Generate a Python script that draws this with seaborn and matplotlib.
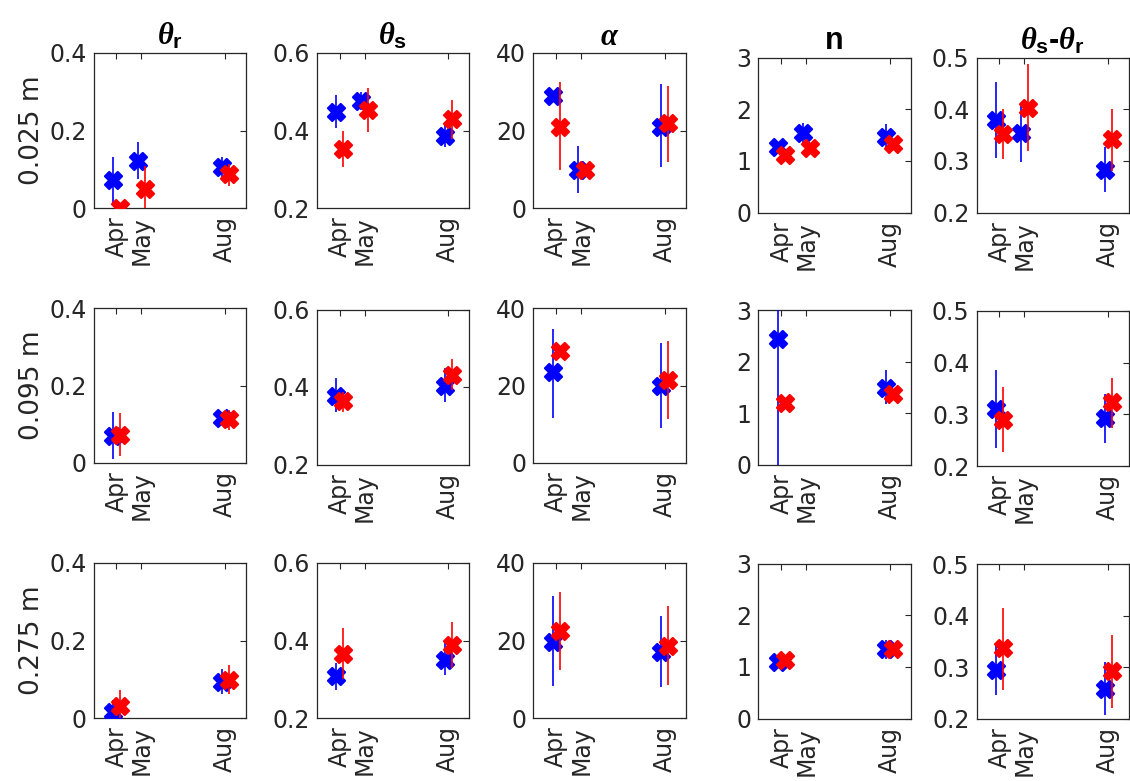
import numpy as np
import pandas as pd
import matplotlib
matplotlib.use("Agg")
import matplotlib.pyplot as plt
import seaborn as sns

# ---------------- data ----------------
months = ["Apr", "May", "Aug"]
month_day = [23, 48, 132]          # sampling day, counted from 1 April
depths = ["0.025 m", "0.095 m", "0.275 m"]
param_titles = [r"$\theta_\mathbf{r}$", r"$\theta_\mathbf{s}$", r"$\alpha$", "n",
                r"$\theta_\mathbf{s}$-$\theta_\mathbf{r}$"]
ylims = [(0, 0.4), (0.2, 0.6), (0, 40), (0, 3), (0.2, 0.5)]
yticks = [[0, 0.2, 0.4], [0.2, 0.4, 0.6], [0, 20, 40], [0, 1, 2, 3], [0.2, 0.3, 0.4, 0.5]]

NA = [np.nan, np.nan, np.nan]
# each entry: [mean, lower, upper] for Apr, May, Aug; rows = depths
theta_r_blue = [[[0.071, 0.010, 0.131], [0.122, 0.075, 0.170], [0.105, 0.079, 0.131]],
                [[0.069, 0.011, 0.132], NA, [0.115, 0.097, 0.132]],
                [[0.016, 0.000, 0.046], NA, [0.093, 0.063, 0.126]]]
theta_r_red = [[[0.001, 0.000, 0.004], [0.049, 0.000, 0.109], [0.088, 0.058, 0.114]],
               [[0.073, 0.017, 0.128], NA, [0.113, 0.084, 0.136]],
               [[0.031, 0.000, 0.073], NA, [0.097, 0.061, 0.136]]]
theta_s_blue = [[[0.449, 0.406, 0.492], [0.476, 0.452, 0.499], [0.387, 0.357, 0.417]],
                [[0.378, 0.336, 0.424], NA, [0.403, 0.362, 0.448]],
                [[0.308, 0.272, 0.341], NA, [0.350, 0.311, 0.393]]]
theta_s_red = [[[0.351, 0.305, 0.400], [0.452, 0.396, 0.509], [0.430, 0.378, 0.479]],
               [[0.364, 0.336, 0.388], NA, [0.431, 0.392, 0.472]],
               [[0.365, 0.300, 0.431], NA, [0.389, 0.328, 0.447]]]
alpha_blue = [[[28.8, 28.2, 29.4], [9.8, 4.0, 16.1], [21.0, 10.5, 31.9]],
              [[23.5, 11.7, 34.7], NA, [19.8, 9.1, 31.0]],
              [[19.6, 8.3, 31.4], NA, [17.0, 8.0, 26.2]]]
alpha_red = [[[21.0, 9.8, 32.5], [9.8, 9.2, 10.4], [21.9, 11.9, 31.6]],
             [[29.0, 28.4, 29.6], NA, [21.4, 11.4, 31.4]],
             [[22.4, 12.4, 32.5], NA, [18.7, 8.4, 28.8]]]
n_blue = [[[1.27, 1.20, 1.35], [1.53, 1.35, 1.74], [1.47, 1.22, 1.71]],
          [[2.43, -0.2, 3.2], NA, [1.50, 1.19, 1.84]],
          [[1.10, 1.02, 1.20], NA, [1.34, 1.15, 1.51]]]
n_red = [[[1.11, 1.06, 1.16], [1.25, 1.20, 1.30], [1.32, 1.25, 1.40]],
         [[1.20, 1.13, 1.27], NA, [1.38, 1.30, 1.47]],
         [[1.13, 1.07, 1.19], NA, [1.34, 1.28, 1.40]]]
diff_blue = [[[0.379, 0.306, 0.452], [0.353, 0.297, 0.408], [0.283, 0.240, 0.327]],
             [[0.311, 0.235, 0.386], NA, [0.292, 0.245, 0.339]],
             [[0.294, 0.247, 0.343], NA, [0.259, 0.208, 0.311]]]
diff_red = [[[0.351, 0.304, 0.400], [0.403, 0.319, 0.488], [0.342, 0.280, 0.400]],
            [[0.290, 0.227, 0.353], NA, [0.323, 0.274, 0.371]],
            [[0.337, 0.256, 0.414], NA, [0.292, 0.221, 0.363]]]

blue_sets = [theta_r_blue, theta_s_blue, alpha_blue, n_blue, diff_blue]
red_sets = [theta_r_red, theta_s_red, alpha_red, n_red, diff_red]

# ---------------- style ----------------
sns.set_theme(style="white")
plt.rcParams["font.family"] = ["DejaVu Sans"]
plt.rcParams["mathtext.fontset"] = "custom"
plt.rcParams["mathtext.it"] = "Liberation Serif:italic:bold"
plt.rcParams["mathtext.bf"] = "Liberation Sans:bold"
plt.rcParams["mathtext.rm"] = "Liberation Sans"

INK = "#262626"
colors = {"blue": "#0000ff", "red": "#ff0000"}
offsets = {"blue": -3.5, "red": 3.5}

W, H = 1130, 781
fig = plt.figure(figsize=(W / 100, H / 100), dpi=100)

col_left = [93.5, 316.7, 533.3, 758.4, 976.5]
row_top = [[53, 53, 53, 57.5, 57.5],
           [308, 309.5, 308, 310, 311],
           [563, 563, 563, 563.5, 564]]
ax_w, ax_h = 152.5, 155

for r in range(3):
    for c in range(5):
        left = col_left[c] / W
        bottom = 1 - (row_top[r][c] + ax_h) / H
        ax = fig.add_axes([left, bottom, ax_w / W, ax_h / H])
        rows = []
        for name, sets in (("blue", blue_sets), ("red", red_sets)):
            vals = sets[c][r]
            for m in range(3):
                mean, lo, hi = vals[m]
                if np.isnan(mean):
                    continue
                rows.append({"series": name, "x": month_day[m] + offsets[name],
                             "mean": mean, "lo": lo, "hi": hi})
        df = pd.DataFrame(rows)
        for name in ("blue", "red"):
            sub = df[df.series == name]
            sns.scatterplot(data=sub, x="x", y="mean", color=colors[name], marker="X",
                            s=150, linewidth=1.6, edgecolor=colors[name], legend=False,
                            ax=ax, zorder=3 if name == "blue" else 5)
            ax.vlines(sub["x"], sub["lo"], sub["hi"], color=colors[name], linewidth=1.2,
                      zorder=4 if name == "blue" else 6)
        ax.set_xlim(0, 153)
        ax.set_ylim(*ylims[c])
        ax.set_yticks(yticks[c])
        ax.set_yticklabels([f"{v:g}" for v in yticks[c]])
        ax.set_xticks(month_day)
        ax.set_xticklabels(months, rotation=90, va="top", ha="center")
        ax.set_xlabel("")
        ax.set_ylabel("")
        ax.tick_params(direction="in", top=True, right=True, length=4, width=0.8,
                       colors=INK, labelsize=17, pad=5)
        ax.tick_params(axis="x", pad=6)
        for sp in ax.spines.values():
            sp.set_color(INK)
            sp.set_linewidth(0.9)
            sp.set_visible(True)
        if r == 0:
            ax.set_title(param_titles[c], fontsize=22, fontweight="bold", color="black",
                         pad=6, family="Liberation Sans")
        if c == 0:
            ax.set_ylabel(depths[r], fontsize=19, color=INK, labelpad=3)

fig.savefig("out.png", dpi=100, facecolor="white")
